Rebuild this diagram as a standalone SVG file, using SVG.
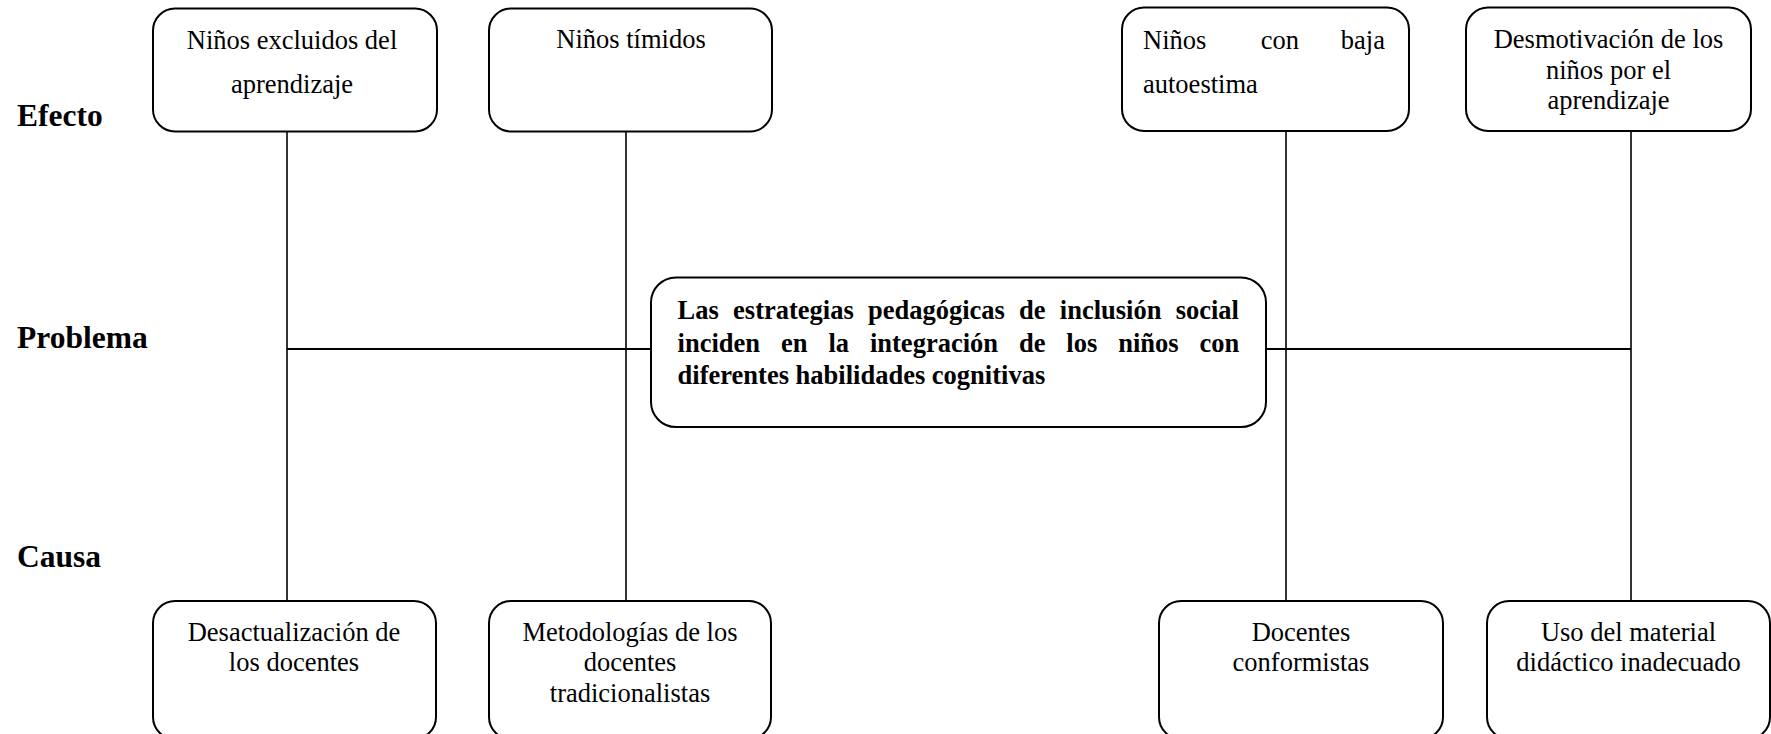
<svg xmlns="http://www.w3.org/2000/svg" width="1771" height="734" viewBox="0 0 1771 734">
<style>
.box{fill:#fff;stroke:#000;stroke-width:2}
.t{font-family:"Liberation Serif","Times New Roman",serif;font-size:26.5px;fill:#000}
.c{text-anchor:middle}
.b{font-weight:bold}
.lab{font-family:"Liberation Serif","Times New Roman",serif;font-size:31.5px;font-weight:bold;fill:#000}
.ln{stroke:#000;stroke-width:1.6;fill:none}
.hl{stroke:#000;stroke-width:2.2;fill:none}
</style>
<rect width="1771" height="734" fill="#fff"/>
<g id="labels">
<text class="lab" x="17" y="126">Efecto</text>
<text class="lab" x="17" y="348">Problema</text>
<text class="lab" x="17" y="567">Causa</text>
</g>
<g id="connectors">
<line class="ln" x1="287" y1="131" x2="287" y2="601"/>
<line class="ln" x1="626" y1="131" x2="626" y2="601"/>
<line class="ln" x1="1286" y1="131" x2="1286" y2="601"/>
<line class="ln" x1="1631" y1="131" x2="1631" y2="601"/>
<line class="hl" x1="287" y1="349" x2="651" y2="349"/>
<line class="hl" x1="1265" y1="349" x2="1631" y2="349"/>
</g>
<g id="efecto1">
<rect class="box" x="153" y="8.5" width="284" height="123" rx="22"/>
<text class="t c" x="292" y="49">Niños excluidos del</text>
<text class="t c" x="292" y="93">aprendizaje</text>
</g>
<g id="efecto2">
<rect class="box" x="489" y="8.5" width="283" height="123" rx="22"/>
<text class="t c" x="631" y="48">Niños tímidos</text>
</g>
<g id="efecto3">
<rect class="box" x="1122" y="7.5" width="287" height="123.5" rx="22"/>
<text class="t" x="1143" y="49">Niños</text>
<text class="t c" x="1280" y="49">con</text>
<text class="t" x="1385" y="49" text-anchor="end">baja</text>
<text class="t" x="1143" y="93">autoestima</text>
</g>
<g id="efecto4">
<rect class="box" x="1466" y="7.5" width="285" height="123.5" rx="22"/>
<text class="t c" x="1608.5" y="48">Desmotivación de los</text>
<text class="t c" x="1608.5" y="79">niños por el</text>
<text class="t c" x="1608.5" y="109">aprendizaje</text>
</g>
<g id="problema">
<rect class="box" x="651" y="277.5" width="615" height="149.5" rx="25"/>
<text class="t b" x="677.6" y="319" word-spacing="7.6">Las estrategias pedagógicas de inclusión social</text>
<text class="t b" x="677.6" y="351.5" word-spacing="14.3">inciden en la integración de los niños con</text>
<text class="t b" x="677.6" y="384">diferentes habilidades cognitivas</text>
</g>
<g id="causa1">
<rect class="box" x="153" y="601" width="283" height="138" rx="22"/>
<text class="t c" x="294" y="641">Desactualización de</text>
<text class="t c" x="294" y="671">los docentes</text>
</g>
<g id="causa2">
<rect class="box" x="489" y="601" width="282" height="138" rx="22"/>
<text class="t c" x="630" y="641">Metodologías de los</text>
<text class="t c" x="630" y="671">docentes</text>
<text class="t c" x="630" y="702">tradicionalistas</text>
</g>
<g id="causa3">
<rect class="box" x="1159" y="601" width="284" height="138" rx="22"/>
<text class="t c" x="1301" y="641">Docentes</text>
<text class="t c" x="1301" y="671">conformistas</text>
</g>
<g id="causa4">
<rect class="box" x="1487" y="601" width="283" height="138" rx="22"/>
<text class="t c" x="1628.5" y="641">Uso del material</text>
<text class="t c" x="1628.5" y="671">didáctico inadecuado</text>
</g>
</svg>
